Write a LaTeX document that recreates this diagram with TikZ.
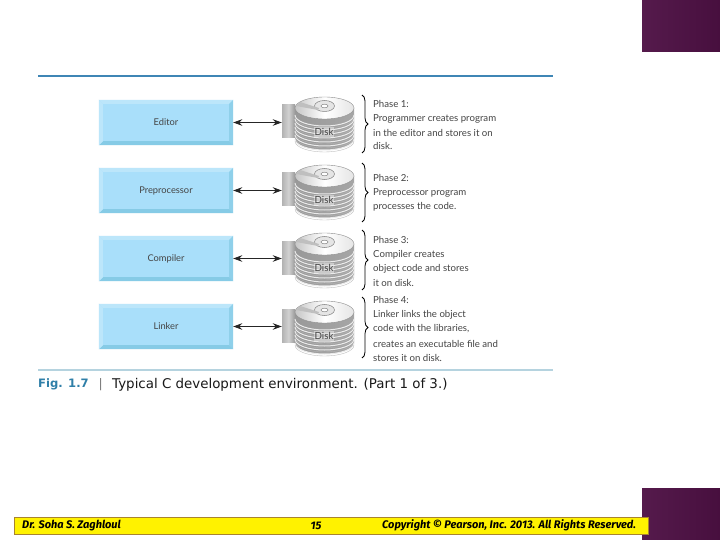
\documentclass[tikz,border=0pt]{standalone}
\usepackage{fontspec}
\setmainfont{Lato}
\newfontfamily\capfont{DejaVu Sans}
\newfontfamily\footfont{Fira Sans}
\usetikzlibrary{arrows.meta,decorations.pathreplacing}
\definecolor{boxfill}{HTML}{A9DFFA}
\definecolor{boxtop}{HTML}{BCE6FA}
\definecolor{boxside}{HTML}{8FD0EA}
\definecolor{boxlow}{HTML}{86CBE6}
\definecolor{rulecola}{HTML}{3F86B5}
\definecolor{rulecolb}{HTML}{B5D3DF}
\definecolor{figblue}{HTML}{2F7FA8}
\definecolor{plum}{HTML}{551A4C}
\definecolor{plumb}{HTML}{470F3E}
\definecolor{bordr}{HTML}{A8842F}
\definecolor{inktxt}{HTML}{444444}
\tikzset{
  x=1pt,y=-1pt,
  stagebox/.style={rectangle,fill=boxfill,minimum width=134pt,minimum height=45pt,inner sep=0pt,
    font=\fontsize{9.3}{12}\selectfont,text=inktxt},
  tabbox/.style={rectangle,minimum width=13pt,minimum height=33pt,inner sep=0pt,
    left color=black!30,right color=black!40,middle color=black!18},
  link/.style={draw=black!85,line width=1pt,{Stealth[length=9pt,width=6.5pt]}-{Stealth[length=9pt,width=6.5pt]}},
  phasetxt/.style={anchor=west,inner sep=0pt,font=\fontsize{9.65}{12}\selectfont,text=inktxt},
  bracepath/.style={draw=black,line width=0.8pt,decorate,decoration={brace,amplitude=6pt,raise=0pt}},
  rulea/.style={draw=rulecola,line width=1.3pt},
  ruleb/.style={draw=rulecolb,line width=1.2pt},
  footxt/.style={inner sep=0pt,font=\footfont\bfseries\itshape\fontsize{11}{13}\selectfont,text=black},
  corner/.style={rectangle,inner sep=0pt,minimum width=78pt,left color=plum,right color=plumb},
}
% #1 name, #2 top y of the box, #3 text
\newcommand{\bevelbox}[3]{%
  \node[stagebox] (#1) at (166,#2+22.5) {#3};
  \fill[boxtop] (#1.north west) -- (#1.north east) -- ([shift={(-4,4)}]#1.north east) -- ([shift={(4,4)}]#1.north west) -- cycle;
  \fill[boxside] (#1.north east) -- (#1.south east) -- ([shift={(-4,-4)}]#1.south east) -- ([shift={(-4,4)}]#1.north east) -- cycle;
  \fill[boxlow] (#1.south west) -- (#1.south east) -- ([shift={(-4,-4)}]#1.south east) -- ([shift={(4,-4)}]#1.south west) -- cycle;
  \fill[boxtop] (#1.north west) -- (#1.south west) -- ([shift={(4,-4)}]#1.south west) -- ([shift={(4,4)}]#1.north west) -- cycle;
}
% #1 name of tab node, #2 top y of the disk
\newcommand{\stackdisk}[2]{%
  \begin{scope}[shift={(0,#2)}]
    \node[tabbox] (#1) at (288.5,24.5) {};
    \fill[black!22] (295,11) -- (310,2) -- (320,8) -- (298,16) -- cycle;
    \path[left color=black!40,middle color=black!12,right color=black!35]
      (295,11) -- (295,42) .. controls (295,48.5) and (309,53) .. (324.5,53)
      .. controls (340,53) and (354,48.5) .. (354,42) -- (354,11) -- cycle;
    \foreach \d in {4,8,...,28}{
      \draw[white!92!black,line width=1pt]
        (295,14+\d) .. controls (295,20.5+\d) and (309,25+\d) .. (324.5,25+\d)
        .. controls (340,25+\d) and (354,20.5+\d) .. (354,14+\d);
      \draw[black!28,line width=0.35pt]
        (295,16+\d) .. controls (295,22.5+\d) and (309,27+\d) .. (324.5,27+\d)
        .. controls (340,27+\d) and (354,22.5+\d) .. (354,16+\d);
    }
    \shade[left color=black!22,right color=black!10,middle color=white,draw=black!45,line width=0.4pt]
      (324.5,11) ellipse [x radius=29.5,y radius=11];
    \draw[black!50,fill=black!10,line width=0.5pt] (324.5,9) ellipse [x radius=10,y radius=5.5];
    \draw[black!55,fill=white,line width=0.4pt] (324.5,9) ellipse [x radius=3.5,y radius=1.8];
    \fill[black!25] (296,9) -- (300,5) -- (319,11) -- (318,13) -- cycle;
    \node[inner sep=1pt,fill=black!8,fill opacity=0.55,text opacity=1,font=\fontsize{9.8}{12}\selectfont,text=inktxt] (#1txt) at (324,35) {Disk};
  \end{scope}
}
\newcommand{\phasebrace}[3]{%
  \coordinate (#1a) at (362,#2);
  \coordinate (#1b) at (362,#3);
  \draw[bracepath] (#1a) -- (#1b);
}
\begin{document}
\begin{tikzpicture}
\useasboundingbox (0,0) rectangle (720,540);
\fill[white] (0,0) rectangle (720,540);
\node[corner,anchor=north west,minimum height=51pt] (cornertop) at (642,0) {};
\node[corner,anchor=north west,minimum height=52pt] (cornerlow) at (642,488) {};

\coordinate (ruletopa) at (38,76);
\coordinate (ruletopb) at (553,76);
\draw[rulea] (ruletopa) -- (ruletopb);
\coordinate (rulelowa) at (38,370);
\coordinate (rulelowb) at (553,370);
\draw[ruleb] (rulelowa) -- (rulelowb);

\bevelbox{editor}{100}{Editor}
\bevelbox{prep}{168}{Preprocessor}
\bevelbox{comp}{236}{Compiler}
\bevelbox{link}{304}{Linker}

\stackdisk{diska}{97}
\stackdisk{diskb}{165}
\stackdisk{diskc}{233}
\stackdisk{diskd}{301}

\draw[link] (editor.east) -- (editor.east -| diska.west);
\draw[link] (prep.east) -- (prep.east -| diskb.west);
\draw[link] (comp.east) -- (comp.east -| diskc.west);
\draw[link] (link.east) -- (link.east -| diskd.west);

\phasebrace{ba}{95}{153}
\phasebrace{bb}{163}{222}
\phasebrace{bc}{230}{290}
\phasebrace{bd}{297}{358}

\node[phasetxt] (p1a) at (373,104) {Phase 1:};
\node[phasetxt] (p1b) at (373,118.5) {Programmer creates program};
\node[phasetxt] (p1c) at (373,132.5) {in the editor and stores it on};
\node[phasetxt] (p1d) at (373,146) {disk.};
\node[phasetxt] (p2a) at (373,178) {Phase 2:};
\node[phasetxt] (p2b) at (373,192.5) {Preprocessor program};
\node[phasetxt] (p2c) at (373,207) {processes the code.};
\node[phasetxt] (p3a) at (373,240) {Phase 3:};
\node[phasetxt] (p3b) at (373,254.5) {Compiler creates};
\node[phasetxt] (p3c) at (373,268.5) {object code and stores};
\node[phasetxt] (p3d) at (373,283) {it on disk.};
\node[phasetxt] (p4a) at (373,300) {Phase 4:};
\node[phasetxt] (p4b) at (373,314.5) {Linker links the object};
\node[phasetxt] (p4c) at (373,329) {code with the libraries,};
\node[phasetxt] (p4d) at (373,343.5) {creates an executable file and};
\node[phasetxt] (p4e) at (373,357.5) {stores it on disk.};

\node[anchor=west,inner sep=0pt,font=\capfont\bfseries\fontsize{11.6}{13}\selectfont,text=figblue] (figlabel) at (38,384.5) {Fig. 1.7};
\node[anchor=west,inner sep=0pt,font=\fontsize{13}{14}\selectfont,text=black!60] (figbar) at (99,384.5) {|};
\node[anchor=west,inner sep=0pt,font=\capfont\fontsize{13.4}{15}\selectfont,text=black!90] (figtext) at (112,384.5) {Typical C development environment. (Part 1 of 3.)};

\node[rectangle,draw=bordr,line width=0.8pt,fill=yellow,anchor=north west,minimum width=634pt,minimum height=17pt,inner sep=0pt] (footbar) at (14,517) {};
\node[footxt,anchor=west] (footname) at (22,525.5) {Dr. Soha S. Zaghloul};
\node[footxt,anchor=center] (footnum) at (316,525.5) {15};
\node[footxt,anchor=west] (footcopy) at (382,525.5) {Copyright © Pearson, Inc. 2013. All Rights Reserved.};
\end{tikzpicture}
\end{document}
